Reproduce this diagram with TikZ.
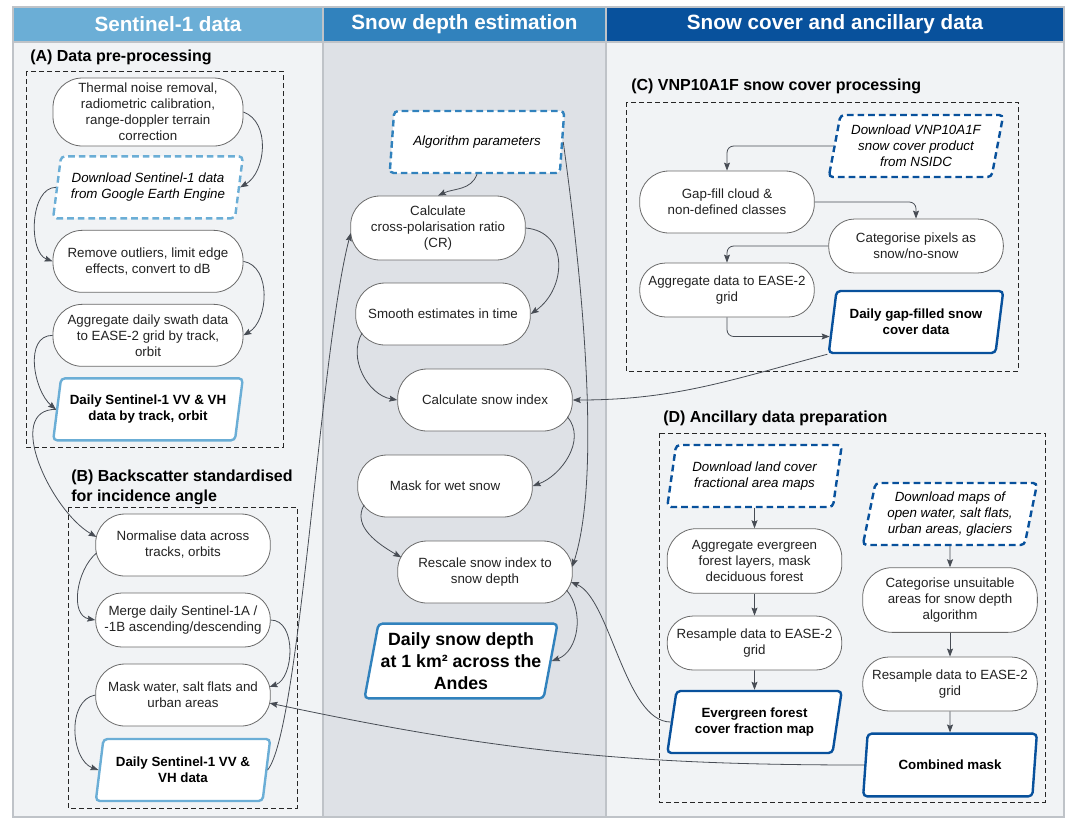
\documentclass[tikz,border=0pt]{standalone}
\usepackage{fontspec}
\setmainfont{Liberation Sans}
\usetikzlibrary{positioning, arrows.meta, shapes.geometric, calc}

\definecolor{blueA}{HTML}{6BAED6}
\definecolor{blueB}{HTML}{3182BD}
\definecolor{blueC}{HTML}{08519C}
\definecolor{paneLight}{HTML}{F1F3F5}
\definecolor{paneDark}{HTML}{DEE1E6}
\definecolor{paneLine}{HTML}{BFC3C8}
\definecolor{edgeGrey}{HTML}{474C54}
\definecolor{procLine}{HTML}{6A6A6A}
\definecolor{inkGrey}{HTML}{222222}

\tikzset{
  proc/.style={draw=procLine, line width=0.6pt, fill=white, rectangle, rounded corners=22pt,
    minimum width=131pt, minimum height=46.5pt, inner sep=1pt, align=center, text=inkGrey,
    font=\fontsize{10}{12}\selectfont},
  proc short/.style={proc, minimum height=40.5pt, rounded corners=19.5pt},
  proc tall/.style={proc, minimum height=48.5pt},
  colA/.style={minimum width=142.5pt},
  data/.style={trapezium, trapezium left angle=77, trapezium right angle=103,
    trapezium stretches=true, fill=white, line width=1.8pt, rounded corners=3pt,
    minimum width=131pt, minimum height=46.5pt, inner sep=1pt, align=center, text=black,
    font=\fontsize{10}{12}\selectfont\bfseries},
  source/.style={data, dash pattern=on 5pt off 3pt, font=\fontsize{10}{12}\selectfont\itshape},
  group/.style={draw=black!85, dash pattern=on 3.5pt off 2.5pt, line width=0.7pt},
  grouptitle/.style={anchor=west, align=left, inner sep=0pt, text=black,
    font=\fontsize{12}{15}\selectfont\bfseries},
  header/.style={text=white, font=\fontsize{15.5}{18}\selectfont\bfseries},
  flow/.style={-{Stealth[length=6pt,width=4.5pt,inset=1pt]}, draw=edgeGrey, line width=0.6pt},
}

\begin{document}
\begin{tikzpicture}[x=0.75pt, y=-0.75pt, node distance=55.5pt]
    \useasboundingbox (0,0) rectangle (1066,819);

    \fill[paneLight] (13,42) rectangle (323,817);
    \fill[paneDark] (323,42) rectangle (606,817);
    \fill[paneLight] (606,42) rectangle (1064,817);
    \fill[blueA] (13,7) rectangle (323,42);
    \fill[blueB] (323,7) rectangle (606,42);
    \fill[blueC] (606,7) rectangle (1064,42);
    \draw[paneLine, line width=0.8pt] (13,7) rectangle (1064,817)
        (323,7) -- (323,817) (606,7) -- (606,817) (13,42) -- (1064,42);

    \node[header] (hdrS1) at (168,24) {Sentinel-1 data};
    \node[header] (hdrDepth) at (464.5,24) {Snow depth estimation};
    \node[header] (hdrCover) at (835,24) {Snow cover and ancillary data};

    \draw[group] (26,71) rectangle (283,447);
    \draw[group] (68,507) rectangle (297,808);
    \draw[group] (626,102) rectangle (1018,371);
    \draw[group] (659,433) rectangle (1045,802);

    \node[grouptitle] (titleA) at (30,57) {(A) Data pre-processing};
    \node[grouptitle] (titleB) at (71,487) {(B) Backscatter standardised\\for incidence angle};
    \node[grouptitle] (titleC) at (631,86) {(C) VNP10A1F snow cover processing};
    \node[grouptitle] (titleD) at (663,418) {(D) Ancillary data preparation};

    \node[proc, colA, minimum height=51pt] (thermal) at (148,112) {Thermal noise removal,\\radiometric calibration,\\range-doppler terrain\\correction};
    \node[source, colA, draw=blueA] (dlS1) [below of=thermal, yshift=-1pt] {Download Sentinel-1 data\\from Google Earth Engine};
    \node[proc, colA] (outliers) [below of=dlS1] {Remove outliers, limit edge\\effects, convert to dB};
    \node[proc, colA] (swath) [below of=outliers] {Aggregate daily swath data\\to EASE-2 grid by track,\\orbit};
    \node[data, colA, draw=blueA] (dailyTrack) [below of=swath] {Daily Sentinel-1 VV \& VH\\data by track, orbit};

    \node[proc] (normalise) at (183,545) {Normalise data across\\tracks, orbits};
    \node[proc short] (merge) [below of=normalise, yshift=-0.75pt] {Merge daily Sentinel-1A /\\-1B ascending/descending};
    \node[proc] (maskWater) [below of=merge, yshift=-0.75pt] {Mask water, salt flats and\\urban areas};
    \node[data, draw=blueA] (dailyS1) [below of=maskWater, yshift=-0.75pt] {Daily Sentinel-1 VV \&\\VH data};

    \node[source, draw=blueB] (algo) at (477,142) {Algorithm parameters};
    \node[proc, minimum height=48pt] (crossPol) at (438,228) {Calculate\\cross-polarisation ratio\\(CR)};
    \node[proc] (smooth) at (443,314) {Smooth estimates in time};
    \node[proc] (snowIdx) at (485,400) {Calculate snow index};
    \node[proc] (wetSnow) at (445,486) {Mask for wet snow};
    \node[proc] (rescale) at (485,572) {Rescale snow index to\\snow depth};
    \node[data, draw=blueB, minimum width=145pt, minimum height=56pt,
          font=\fontsize{13.3}{16.5}\selectfont\bfseries] (depth) at (461,661) {Daily snow depth\\at 1 km² across the\\Andes};

    \node[source, draw=blueC] (viirs) at (916,146) {Download VNP10A1F\\snow cover product\\from NSIDC};
    \node[proc] (gapFill) at (727,202) {Gap-fill cloud \&\\non-defined classes};
    \node[proc short] (pixels) at (916,246) {Categorise pixels as\\snow/no-snow};
    \node[proc short] (aggEase) at (727,290) {Aggregate data to EASE-2\\grid};
    \node[data, draw=blueC] (snowData) at (916,322) {Daily gap-filled snow\\cover data};

    \node[source, draw=blueC] (landCover) at (754.5,476) {Download land cover\\fractional area maps};
    \node[proc tall] (evergreen) at (754.5,561) {Aggregate evergreen\\forest layers, mask\\deciduous forest};
    \node[proc short] (resampleD) at (754.5,643) {Resample data to EASE-2\\grid};
    \node[data, draw=blueC] (forestMap) at (754.5,722) {Evergreen forest\\cover fraction map};

    \node[source, draw=blueC] (masksDl) at (950,514) {Download maps of\\open water, salt flats,\\urban areas, glaciers};
    \node[proc tall] (unsuitable) at (950,600) {Categorise unsuitable\\areas for snow depth\\algorithm};
    \node[proc short] (resampleE) at (950,684) {Resample data to EASE-2\\grid};
    \node[data, draw=blueC, minimum height=47pt] (combMask) at (950,765) {Combined mask};

    \path (thermal.east) edge[flow, out=-20, in=30] (dlS1.right side)
          (dlS1.left side) edge[flow, out=180, in=160, looseness=0.9] (outliers.west)
          (outliers.east) edge[flow, out=-10, in=30] (swath.east)
          (swath.west) edge[flow, out=180, in=140] (dailyTrack.left side)
          (dailyTrack.left side) edge[flow, out=180, in=150] ($(normalise.west)+(22pt,0)+(164:22pt)$)
          ($(normalise.west)+(22pt,0)+(196:22pt)$) edge[flow, out=220, in=170] (merge.west)
          (merge.east) edge[flow, out=0, in=20] ($(maskWater.east)+(-22pt,0)+(16:22pt)$)
          (maskWater.west) edge[flow, out=190, in=160] (dailyS1.left side)
          (algo.south) edge[flow, out=-110, in=25] (crossPol.north)
          (crossPol.east) edge[flow, out=-5, in=35, looseness=1.3] (smooth.east)
          ($(smooth.west)+(22pt,0)+(220:22pt)$) edge[flow, out=240, in=170] (snowIdx.west)
          ($(snowIdx.east)+(-22pt,0)+(-35:22pt)$) edge[flow, out=-50, in=20] (wetSnow.east)
          ($(wetSnow.west)+(22pt,0)+(220:22pt)$) edge[flow, out=240, in=150] ($(rescale.west)+(22pt,0)+(150:22pt)$)
          ($(rescale.east)+(-22pt,0)+(-38:22pt)$) edge[flow, out=-50, in=20] (depth.right side)
          (snowData.bottom left corner) edge[flow, out=195, in=0] (snowIdx.east)
          (combMask.left side) edge[flow, out=180, in=-12] ($(maskWater.east)+(-22pt,0)+(-16:22pt)$);

    \draw[flow] (dailyS1.right side) .. controls (300,730) and (320,350) .. ($(crossPol.west)+(22pt,0)+(190:22pt)$);
    \draw[flow] (algo.right side) .. controls (585,300) and (600,480) .. ($(rescale.east)+(-22pt,0)+(10:22pt)$);
    \draw[flow] (forestMap.left side) .. controls (625,722) and (610,598) .. ($(rescale.east)+(-22pt,0)+(-20:22pt)$);

    \draw[flow, rounded corners=5pt] (viirs.left side) -| (gapFill.north);
    \draw[flow, rounded corners=5pt] (gapFill.east) -| (pixels.north);
    \draw[flow, rounded corners=5pt] (pixels.west) -| (aggEase.north);
    \draw[flow, rounded corners=5pt] (aggEase.south) |- ($(snowData.left side)!0.45!(snowData.bottom left corner)$);

    \draw[flow] (landCover) -- (evergreen);
    \draw[flow] (evergreen) -- (resampleD);
    \draw[flow] (resampleD) -- (forestMap);
    \draw[flow] (masksDl) -- (unsuitable);
    \draw[flow] (unsuitable) -- (resampleE);
    \draw[flow] (resampleE) -- (combMask);
\end{tikzpicture}
\end{document}
